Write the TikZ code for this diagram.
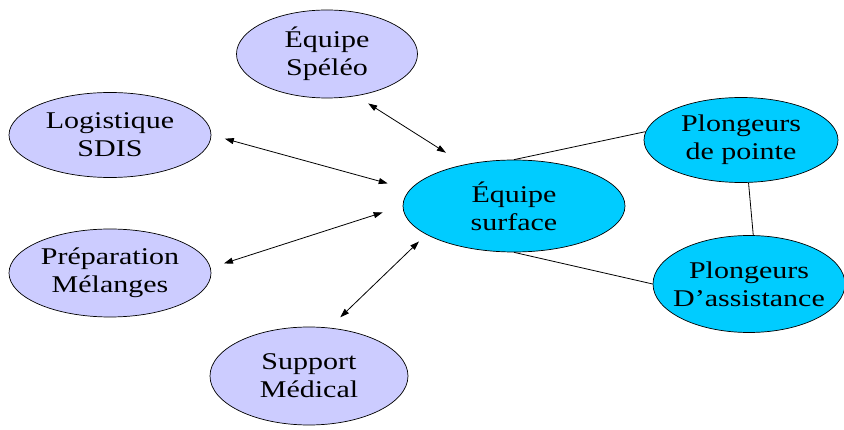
\documentclass[tikz,border=0pt]{standalone}
\usepackage{fontspec}
\setmainfont{Liberation Serif}[FakeStretch=1.25]
\usepackage{tikz}
\usetikzlibrary{shapes.geometric,arrows.meta}

\definecolor{teamfill}{HTML}{CCCCFF}
\definecolor{diverfill}{HTML}{00CCFF}

\tikzset{
	bubble/.style={ellipse, draw=black, line width=0.7pt, inner sep=0pt, align=center,
		font=\fontsize{24}{28}\selectfont},
	team/.style={bubble, fill=teamfill},
	diver/.style={bubble, fill=diverfill},
	link/.style={line width=0.8pt, {Triangle[length=9pt,width=6pt]}-{Triangle[length=9pt,width=6pt]}},
	tie/.style={line width=0.8pt}
}

\begin{document}
\begin{tikzpicture}[x=1pt,y=-1pt]
	\useasboundingbox (0,0) rectangle (844,430);
	\node[team, minimum width=181pt, minimum height=88pt] at (327,54) (speleo) {Équipe\\Spéléo};
	\node[team, minimum width=202pt, minimum height=85pt] at (110,135) (logist) {Logistique\\SDIS};
	\node[team, minimum width=202pt, minimum height=88pt] at (110,273) (prep) {Préparation\\Mélanges};
	\node[team, minimum width=198pt, minimum height=98pt] at (309,376) (support) {Support\\Médical};
	\node[diver, minimum width=222pt, minimum height=92pt] at (514,206) (surface) {Équipe\\surface};
	\node[diver, minimum width=194pt, minimum height=85pt] at (741,140) (pointe) {Plongeurs\\de pointe};
	\node[diver, minimum width=192pt, minimum height=97pt, inner xsep=-11pt] at (749,284) (assist) {Plongeurs\\D’assistance};
    \path[link] (speleo.-55) edge[shorten <=14pt, shorten >=22pt] (surface.140);
    \path[link] (logist.0) edge[shorten <=14pt, shorten >=23pt] (surface.171);
    \path[link] (prep.3) edge[shorten <=14pt, shorten >=21pt] (surface.180);
    \path[link] (support.67) edge[shorten <=15pt, shorten >=10pt] (surface.198);
    \path[tie] (surface.north) edge (pointe.175);
    \path[tie] (surface.south) edge (assist.west);
    \path[tie] (pointe.-80) edge (assist.85);
\end{tikzpicture}
\end{document}
